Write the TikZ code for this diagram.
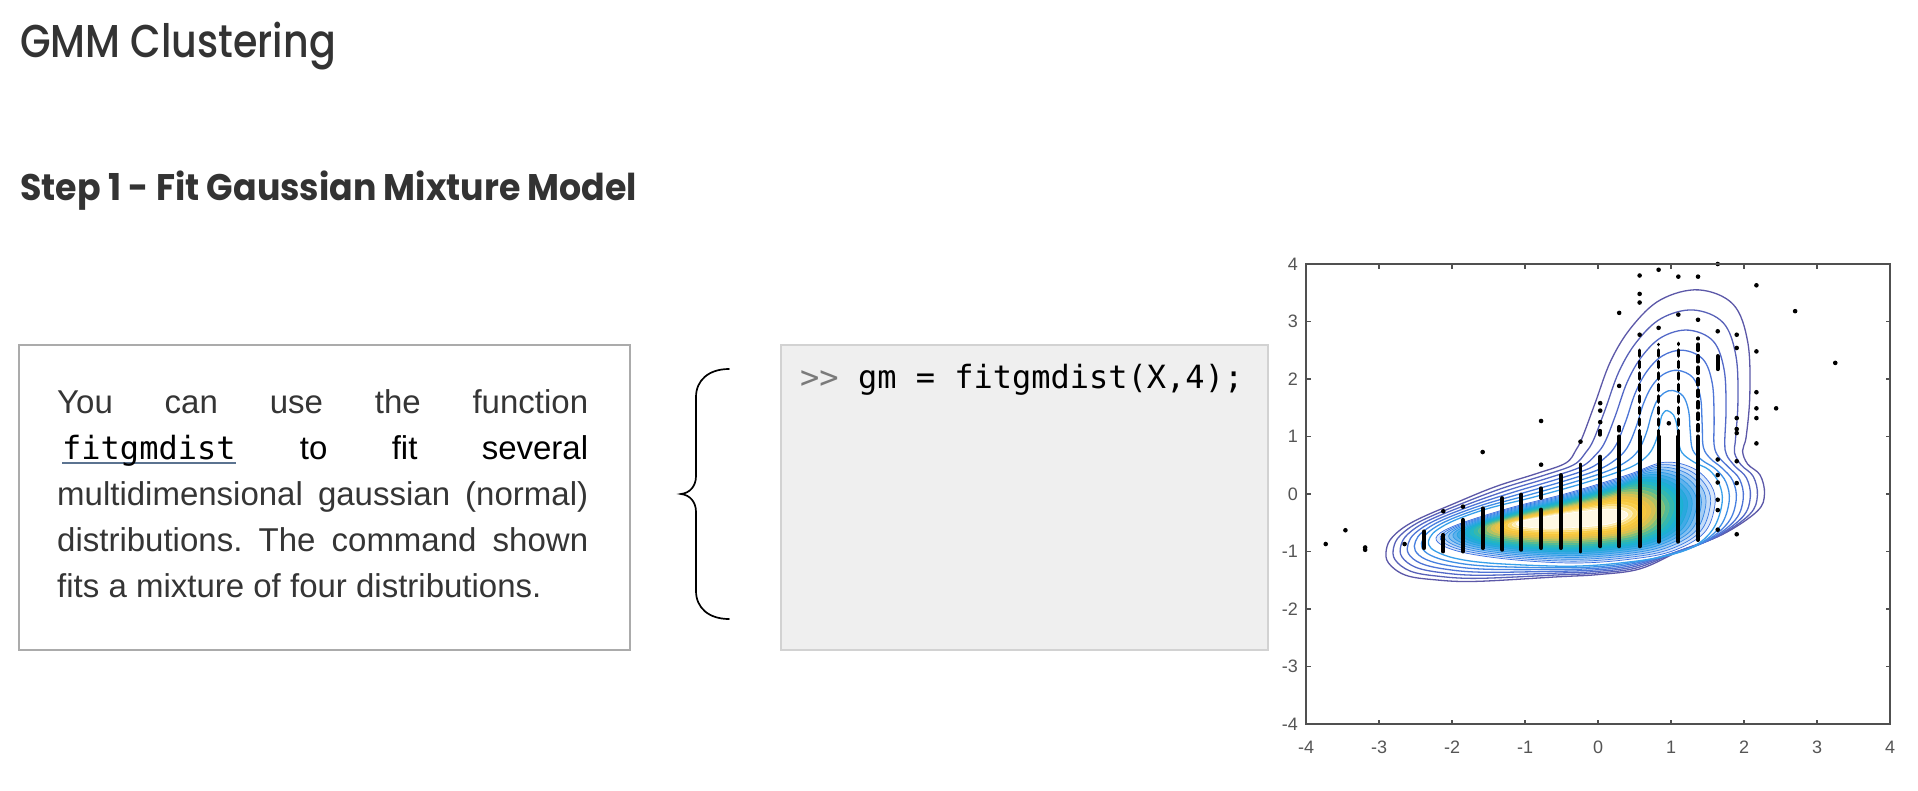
\documentclass[tikz,border=0pt]{standalone}
\usepackage{fontspec}
\setmainfont{Liberation Sans}
\setmonofont{DejaVu Sans Mono}
\newfontfamily\headfont{Poppins}
\newfontfamily\headmed{Poppins Medium}
\usetikzlibrary{calc}
\definecolor{headc}{HTML}{333333}
\definecolor{bodyc}{HTML}{353535}
\definecolor{boxline}{HTML}{ABABAB}
\definecolor{codeline}{HTML}{D2D2D2}
\definecolor{codefill}{HTML}{EFEFEF}
\definecolor{promptc}{HTML}{7A7A7A}
\definecolor{ulc}{HTML}{5B7390}
\definecolor{axisc}{HTML}{505050}
\definecolor{labc}{HTML}{555555}
\definecolor{cA}{HTML}{5C58A8}
\definecolor{cB}{HTML}{5861B8}
\definecolor{cC}{HTML}{5369C8}
\definecolor{cD}{HTML}{4E74D6}
\definecolor{cE}{HTML}{4880E0}
\definecolor{cF}{HTML}{3F8FE6}
\definecolor{cG}{HTML}{38A0EA}
\definecolor{F0}{HTML}{DBE8FB}\definecolor{L0}{HTML}{3A6EE0}
\definecolor{F1}{HTML}{C4DCF8}\definecolor{L1}{HTML}{3678E4}
\definecolor{F2}{HTML}{A4CDF4}\definecolor{L2}{HTML}{3384E6}
\definecolor{F3}{HTML}{82BFF0}\definecolor{L3}{HTML}{2E8FE8}
\definecolor{F4}{HTML}{5FB2EC}\definecolor{L4}{HTML}{2A9AE8}
\definecolor{F5}{HTML}{42AAE6}\definecolor{L5}{HTML}{24A4E2}
\definecolor{F6}{HTML}{2AA8DE}\definecolor{L6}{HTML}{1EAAD8}
\definecolor{F7}{HTML}{1CB0D6}\definecolor{L7}{HTML}{1CB2CE}
\definecolor{F8}{HTML}{22B6C6}\definecolor{L8}{HTML}{28B6BC}
\definecolor{F9}{HTML}{34B8B0}\definecolor{L9}{HTML}{3EB9A4}
\definecolor{F10}{HTML}{52BB98}\definecolor{L10}{HTML}{62BD8A}
\definecolor{F11}{HTML}{7DBF7C}\definecolor{L11}{HTML}{92C070}
\definecolor{F12}{HTML}{AEC266}\definecolor{L12}{HTML}{BEC25E}
\definecolor{F13}{HTML}{D4C254}\definecolor{L13}{HTML}{E0C24C}
\definecolor{F14}{HTML}{ECC246}\definecolor{L14}{HTML}{F2C444}
\definecolor{F15}{HTML}{F6C63E}\definecolor{L15}{HTML}{F8CA42}
\definecolor{F16}{HTML}{F9CD48}\definecolor{L16}{HTML}{FAD454}
\definecolor{F17}{HTML}{FBDA70}\definecolor{L17}{HTML}{FCE090}
\definecolor{F18}{HTML}{FDEAA8}\definecolor{L18}{HTML}{FEF2C8}
\definecolor{F19}{HTML}{FFF8E4}\definecolor{L19}{HTML}{FFFFFF}
\newcommand\ulmono[1]{\setbox0=\hbox{#1}\rlap{\color{ulc}\rule[-5pt]{\wd0}{1.6pt}}\box0\relax}
\newcommand\gmmcontour[1]{plot[smooth cycle, tension=0.6] coordinates {
 ($(o0)!#1!(i0)$) ($(o1)!#1!(i1)$) ($(o2)!#1!(i2)$) ($(o3)!#1!(i3)$)
 ($(o4)!#1!(i4)$) ($(o5)!#1!(i5)$) ($(o6)!#1!(i6)$) ($(o7)!#1!(i7)$)
 ($(o8)!#1!(i8)$) ($(o9)!#1!(i9)$) ($(o10)!#1!(i10)$) ($(o11)!#1!(i11)$)
 ($(o12)!#1!(i12)$) ($(o13)!#1!(i13)$) ($(o14)!#1!(i14)$) ($(o15)!#1!(i15)$)
 ($(o16)!#1!(i16)$) ($(o17)!#1!(i17)$) ($(o18)!#1!(i18)$) ($(o19)!#1!(i19)$)
 ($(o20)!#1!(i20)$) ($(o21)!#1!(i21)$) ($(o22)!#1!(i22)$) ($(o23)!#1!(i23)$)
 ($(o24)!#1!(i24)$) ($(o25)!#1!(i25)$) ($(o26)!#1!(i26)$) ($(o27)!#1!(i27)$)
 ($(o28)!#1!(i28)$) ($(o29)!#1!(i29)$) ($(o30)!#1!(i30)$) ($(o31)!#1!(i31)$)}}
\newcommand\gmmblob[1]{plot[smooth cycle, tension=0.6] coordinates {
 ($(b0)!#1!(k0)$) ($(b1)!#1!(k1)$) ($(b2)!#1!(k2)$) ($(b3)!#1!(k3)$)
 ($(b4)!#1!(k4)$) ($(b5)!#1!(k5)$) ($(b6)!#1!(k6)$) ($(b7)!#1!(k7)$)
 ($(b8)!#1!(k8)$) ($(b9)!#1!(k9)$) ($(b10)!#1!(k10)$) ($(b11)!#1!(k11)$)
 ($(b12)!#1!(k12)$) ($(b13)!#1!(k13)$) ($(b14)!#1!(k14)$) ($(b15)!#1!(k15)$)}}
\frenchspacing
\begin{document}
\begin{tikzpicture}[x=1pt,y=-1pt,
  bodytext/.style={anchor=base west, inner sep=0pt, text=bodyc, font=\fontsize{33}{40}\selectfont},
  axisline/.style={draw=axisc, line width=1.2pt},
  ticklab/.style={inner sep=0pt, text=labc, font=\fontsize{18}{20}\selectfont},
  colpts/.style={line width=3.9pt, line cap=round, black},
  colsparse/.style={line width=3.6pt, line cap=round, black, dash pattern=on 6pt off 5.5pt},
  dotpt/.style={fill=black}]
\useasboundingbox (0,0) rectangle (1918,790);
\fill[white] (0,0) rectangle (1918,790);
% headings
\node[anchor=base west, inner sep=0pt, text=headc, xscale=0.86, font=\headmed\fontsize{46}{56}\selectfont] (title) at (20,57) {GMM Clustering};
\node[anchor=base west, inner sep=0pt, text=headc, xscale=0.94, font=\headfont\bfseries\fontsize{37}{45}\selectfont] (step) at (20,200) {Step 1 - Fit Gaussian Mixture Model};
% description box
\node[draw=boxline, line width=1.5pt, anchor=north west, inner sep=0pt, minimum width=611pt, minimum height=305pt] (descbox) at (18,344) {};
\node[bodytext] (t1) at (57,413) {\makebox[531pt][s]{You can use the function}};
\node[bodytext] (t2) at (57,459) {\makebox[531pt][s]{\hspace*{5pt}\ulmono{\ttfamily\color{black}\fontsize{32}{38}\selectfont fitgmdist} to fit several}};
\node[bodytext] (t3) at (57,505) {\makebox[531pt][s]{multidimensional gaussian (normal)}};
\node[bodytext] (t4) at (57,551) {\makebox[531pt][s]{distributions. The command shown}};
\node[bodytext] (t5) at (57,597) {fits a mixture of four distributions.};
% brace
\coordinate (brtop) at (729,369);
\coordinate (brtip) at (681,494);
\coordinate (brbot) at (729,619);
\draw[line width=1.7pt, line cap=round, black] (brtop) .. controls (709,369) and (696,380) .. (696,397) -- (696,476) .. controls (696,486) and (690,493) .. (brtip) .. controls (690,495) and (696,502) .. (696,512) -- (696,591) .. controls (696,608) and (709,619) .. (brbot);
% code box
\node[draw=codeline, fill=codefill, line width=1.5pt, anchor=north west, inner sep=0pt, minimum width=487pt, minimum height=305pt] (codebox) at (780,344) {};
\node[anchor=base west, inner sep=0pt, font=\ttfamily\fontsize{32}{38}\selectfont] (code) at (800,388) {\textcolor{promptc}{>\kern0pt>} gm = fitgmdist(X,4);};
% plot
\begin{scope}[shift={(1598,494)}, x=73pt, y=57.5pt]
 \coordinate (o0) at (1.38,3.55);  \coordinate (i0) at (0.95,1.45);
 \coordinate (o1) at (1.85,3.3);   \coordinate (i1) at (1.03,1.38);
 \coordinate (o2) at (2.05,2.65);  \coordinate (i2) at (1.08,1.2);
 \coordinate (o3) at (2.08,1.75);  \coordinate (i3) at (1.1,0.95);
 \coordinate (o4) at (2.03,1.0);   \coordinate (i4) at (1.15,0.72);
 \coordinate (o5) at (1.98,0.75);  \coordinate (i5) at (1.32,0.55);
 \coordinate (o6) at (2.05,0.52);  \coordinate (i6) at (1.52,0.42);
 \coordinate (o7) at (2.22,0.33);  \coordinate (i7) at (1.66,0.18);
 \coordinate (o8) at (2.28,0.0);   \coordinate (i8) at (1.7,-0.15);
 \coordinate (o9) at (2.18,-0.3);  \coordinate (i9) at (1.58,-0.6);
 \coordinate (o10) at (1.71,-0.7); \coordinate (i10) at (1.3,-0.92);
 \coordinate (o11) at (1.14,-0.98);\coordinate (i11) at (0.85,-1.1);
 \coordinate (o12) at (0.58,-1.3); \coordinate (i12) at (0.3,-1.2);
 \coordinate (o13) at (0.01,-1.4); \coordinate (i13) at (-0.2,-1.25);
 \coordinate (o14) at (-0.55,-1.44);\coordinate (i14) at (-0.7,-1.25);
 \coordinate (o15) at (-1.68,-1.52);\coordinate (i15) at (-1.5,-1.2);
 \coordinate (o16) at (-2.25,-1.49);\coordinate (i16) at (-1.95,-1.12);
 \coordinate (o17) at (-2.64,-1.41);\coordinate (i17) at (-2.22,-1.0);
 \coordinate (o18) at (-2.87,-1.2); \coordinate (i18) at (-2.32,-0.88);
 \coordinate (o19) at (-2.9,-0.97); \coordinate (i19) at (-2.3,-0.75);
 \coordinate (o20) at (-2.81,-0.74);\coordinate (i20) at (-2.2,-0.62);
 \coordinate (o21) at (-2.53,-0.48);\coordinate (i21) at (-1.95,-0.45);
 \coordinate (o22) at (-1.96,-0.16);\coordinate (i22) at (-1.5,-0.25);
 \coordinate (o23) at (-1.40,0.13); \coordinate (i23) at (-0.9,-0.06);
 \coordinate (o24) at (-0.83,0.36); \coordinate (i24) at (-0.3,0.15);
 \coordinate (o25) at (-0.44,0.54); \coordinate (i25) at (0.2,0.35);
 \coordinate (o26) at (-0.3,0.77);  \coordinate (i26) at (0.5,0.5);
 \coordinate (o27) at (-0.21,1.0);  \coordinate (i27) at (0.7,0.7);
 \coordinate (o28) at (-0.04,1.58); \coordinate (i28) at (0.8,0.95);
 \coordinate (o29) at (0.18,2.33);  \coordinate (i29) at (0.84,1.18);
 \coordinate (o30) at (0.47,2.92);  \coordinate (i30) at (0.87,1.35);
 \coordinate (o31) at (0.86,3.38);  \coordinate (i31) at (0.91,1.43);
 \coordinate (b0) at (0.9,0.55);   \coordinate (k0) at (0.05,-0.34);
 \coordinate (b1) at (1.3,0.45);   \coordinate (k1) at (0.2,-0.35);
 \coordinate (b2) at (1.55,0.15);  \coordinate (k2) at (0.28,-0.37);
 \coordinate (b3) at (1.6,-0.2);   \coordinate (k3) at (0.28,-0.41);
 \coordinate (b4) at (1.45,-0.68); \coordinate (k4) at (0.15,-0.46);
 \coordinate (b5) at (1.0,-1.0);   \coordinate (k5) at (0.0,-0.49);
 \coordinate (b6) at (0.4,-1.14);  \coordinate (k6) at (-0.2,-0.51);
 \coordinate (b7) at (-0.3,-1.2);  \coordinate (k7) at (-0.45,-0.53);
 \coordinate (b8) at (-1.1,-1.15); \coordinate (k8) at (-0.7,-0.54);
 \coordinate (b9) at (-1.8,-1.03); \coordinate (k9) at (-0.9,-0.53);
 \coordinate (b10) at (-2.15,-0.88);\coordinate (k10) at (-1.0,-0.51);
 \coordinate (b11) at (-2.2,-0.72); \coordinate (k11) at (-1.0,-0.48);
 \coordinate (b12) at (-1.9,-0.52); \coordinate (k12) at (-0.9,-0.45);
 \coordinate (b13) at (-1.2,-0.24); \coordinate (k13) at (-0.7,-0.42);
 \coordinate (b14) at (-0.4,0.02);  \coordinate (k14) at (-0.4,-0.37);
 \coordinate (b15) at (0.4,0.33);   \coordinate (k15) at (-0.1,-0.34);
 % outer mixture contours
 \foreach \t/\c in {0/cA,0.1667/cB,0.3333/cC,0.5/cD,0.6667/cE,0.8333/cF,1/cG}
   {\draw[\c, line width=1.3pt] \gmmcontour{\t};}
 % dense main component
 \foreach \j in {0,...,19}
   {\pgfmathsetmacro\tt{0.048*\j}
    \filldraw[fill=F\j, draw=L\j, line width=0.7pt] \gmmblob{\tt};}
 % data points: dense column parts
 \foreach \x/\a/\b in {-2.38/-0.94/-0.65,-2.12/-1.0/-0.71,-1.85/-1.0/-0.45,-1.58/-0.94/-0.25,
   -1.31/-0.97/-0.07,-1.05/-0.97/-0.01,-0.78/-0.94/-0.27,-0.78/-0.07/0.1,-0.51/-0.94/0.33,
   -0.24/-1.0/0.51,0.03/-0.91/0.65,0.03/1.03/1.1,0.29/-0.91/0.9,0.57/-0.91/1.0,
   0.83/-0.83/1.0,1.10/-0.83/1.0,1.37/-0.8/0.9,1.64/2.17/2.4}
   {\draw[colpts] (\x,\a) -- (\x,\b);}
 % data points: sparser upper column parts
 \foreach \x/\a/\b in {0.29/0.9/1.17,0.57/1.0/2.5,0.83/1.0/2.6,1.10/1.0/2.62,1.37/0.9/2.71}
   {\draw[colsparse] (\x,\a) -- (\x,\b);}
 \foreach \x/\y in {-2.12/-0.30,-1.85/-0.22,-1.58/0.73,-0.78/0.51,-0.78/1.27,-0.24/0.91,
   0.03/1.25,0.03/1.45,0.03/1.58,0.29/1.88,0.29/3.15,0.57/2.77,0.57/3.33,0.57/3.48,0.57/3.8,
   0.83/2.89,0.83/3.9,0.97/1.23,1.10/3.12,1.10/3.78,1.37/3.03,1.37/3.78,1.64/-0.62,1.64/-0.28,
   1.64/-0.1,1.64/0.2,1.64/0.33,1.64/0.6,1.64/2.83,1.64/4.0,1.90/-0.70,1.90/0.19,1.90/0.57,
   1.90/1.06,1.90/1.13,1.90/1.32,1.90/2.54,1.90/2.77,2.17/0.88,2.17/1.32,2.17/1.49,2.17/1.77,
   2.17/2.48,2.17/3.63,-3.73/-0.87,-3.46/-0.63,-3.19/-0.93,-3.19/-0.97,-2.65/-0.87,
   2.44/1.49,2.7/3.18,3.25/2.28}
   {\fill[dotpt] (\x,\y) circle (2.3pt);}
 % axes
 \draw[axisline] (-4,-4) rectangle (4,4);
 \foreach \v in {-3,...,3}
   {\draw[axisline] (\v,-4) -- ++(0,4.5pt);
    \draw[axisline] (\v,4) -- ++(0,-4.5pt);
    \draw[axisline] (-4,\v) -- ++(4.5pt,0);
    \draw[axisline] (4,\v) -- ++(-4.5pt,0);}
 \foreach \v [count=\i] in {-4,...,4}
   {\node[ticklab, anchor=center] (xl\i) at ($(\v,-4)+(0,-23pt)$) {\v};
    \node[ticklab, anchor=east] (yl\i) at ($(-4,\v)+(-8pt,0)$) {\v};}
\end{scope}
\end{tikzpicture}
\end{document}
